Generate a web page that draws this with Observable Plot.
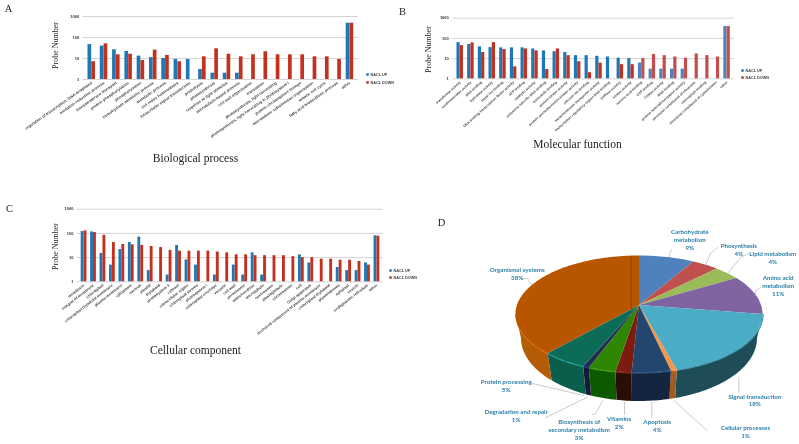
<!DOCTYPE html>
<html><head><meta charset="utf-8">
<script src="https://cdn.jsdelivr.net/npm/d3@7"></script>
<script src="https://cdn.jsdelivr.net/npm/@observablehq/plot@0.6"></script>
<style>
html,body{margin:0;padding:0;background:#fff}
#stage{position:relative;width:799px;height:444px;overflow:hidden}
#stage svg{position:absolute;left:0;top:0;background:transparent;filter:blur(.35px)}
</style></head><body><div id="stage"></div>
<script>
// ---------- Panel A: Biological process
const bpCategories = ["regulation of transcription, DNA-templated","oxidation-reduction process","transmembrane transport","protein phosphorylation","phosphorylation","carbohydrate metabolic process","metabolic process","cell redox homeostasis","intracellular signal transduction","proteolysis","photosynthesis","response to light stimulus","microtubule-based process","cell wall organization","translation","photosynthesis, light harvesting","photosynthesis, light harvesting in photosystem I","protein chromophore linkage","microtubule cytoskeleton organization","mitotic cell cycle","fatty acid biosynthetic process","other"];
const bpUp   = [46,39,26,21.5,13,11,10,9,9,3,2,2,2,null,null,null,null,null,null,null,null,480];
const bpDown = [7,50,15,16,8,25,14,7,null,12,29,16,12,15,21,15,15,15,12,12,9,480];
// ---------- Panel B: Molecular function
const mfCategories = ["transferase activity","oxidoreductase activity","DNA binding","hydrolase activity","metal ion binding","DNA binding transcription factor activity","ATP binding","catalytic activity","sequence-specific DNA binding","nucleotide binding","protein kinase activity","protein serine/threonine kinase activity","calcium ion binding","transmembrane transporter activity","transcription regulatory region DNA binding","GTPase activity","kinase activity","nucleic acid binding","GTP binding","Ciltase activity","RNA binding","protein heterodimerization activity","structural constituent of ribosome","chlorophyll binding","structural constituent of cytoskeleton","other"];
const mfUp   = [62,50,38,35,34,34,34,30,24,22,20,14,14,13,12,10.5,10,6,3,3,3,3,null,null,null,385];
const mfDown = [44,60,20,62,28,3.9,30,24,2.9,30,14,7,2,6,null,5,5,10,16,14,12,10.5,17,14,12,385];
// ---------- Panel C: Cellular component
const ccCategories = ["membrane","integral of membrane","chloroplast","chloroplast thylakoid membrane","plasma membrane","cytoplasm","nucleus","plastid","thylakoid","photosystem II","cytosol","extracellular region","chloroplast stroma","photosystem I","chloroplast envelope","vacuole","cell wall","peroxisome","mitochondrion","microtubule","nucleosome","plastoglobule","chromosome","cell","Golgi apparatus","anchored component of plasma membrane","chloroplast thylakoid","plasmodesma","apoplast","vesicle","endoplasmic reticulum","other"];
const ccUp   = [119,115,14.8,4.9,21.6,42,70,2.9,null,1.9,31.6,8,4.9,null,1.9,null,4.9,1.9,15.7,1.9,null,null,null,13,6,null,null,3.9,2.9,2.9,6,79];
const ccDown = [127,108,84,42,35,33.6,32,29,26,20,18.5,18.5,18.5,18.5,17,15.7,13,13,12,12,12,12,11,10,10,8.6,8.6,7.8,7.8,6.9,4.9,77];
// ---------- Panel D: pie
const pieNames  = ["Carbohydrate\nmetabolism","Phosynthesis","Lipid metabolism","Amino acid\nmetabolism","Signal transduction","Cellular processes","Apoptosis","Vitamins","Biosynthesis of\nsecondary metabolism","Degradation and repair","Protein processing","Organismal systems"];
const piePercent = [9,4,4,11,18,1,4,2,3,1,5,38];
const pieDrawnShare = [7.2,3.6,3.6,10.6,20,0.8,5.1,2.1,3.6,0.8,5.8,36.7];
const pieTop  = ["#4f81bd","#c0504d","#9bbb59","#8064a2","#4bacc6","#f79646","#23466e","#7a1d10","#2f8600","#20294f","#0c6c58","#b85600"];
const pieWall = ["#3a5f8c","#8c3a38","#71883f","#5c4876","#1e4c57","#a35a1e","#14263f","#2a0e05","#0d5b00","#141c3a","#0b5d4c","#b35b05"];
const pieRim  = ["#4f81bd","#c0504d","#9bbb59","#8064a2","#3f98ae","#f79646","#2f5a8c","#8c2a1a","#4aa012","#2c3768","#19b5b0","#f47b20"];

const BLUE="#1f78b4", RED="#c4301f", BLUE2="#4f81bd", RED2="#c0504d";
const stage=document.getElementById("stage");
const W=799,H=444;

function barPanel({cats,up,down,left,right,top,bottom,rotate,font,muteFrom=Infinity}){
  const rows=cats.map((c,i)=>({c,up:up[i],down:down[i],cu:i>=muteFrom?BLUE2:BLUE,cd:i>=muteFrom?RED2:RED}));
  const pitch=(W-left-right)/cats.length, half=pitch*0.305;
  return Plot.plot({width:W,height:H,marginLeft:left,marginRight:right,marginTop:top,marginBottom:bottom,
    style:{background:"transparent"},
    x:{type:"band",domain:cats,padding:0.39,round:false,label:null},
    y:{type:"log",domain:[1,1000],label:null},
    color:{type:"identity"},
    marks:[
      Plot.gridY([1,10,100,1000],{stroke:"#d4d4d4",strokeOpacity:1,strokeWidth:1}),
      Plot.barY(rows,{x:"c",y1:()=>1,y2:"up",fill:"cu",insetRight:half}),
      Plot.barY(rows,{x:"c",y1:()=>1,y2:"down",fill:"cd",insetLeft:half}),
      Plot.axisX({tickRotate:rotate,tickSize:0,tickPadding:3,fontSize:font,fontFamily:"Liberation Sans",fontWeight:"bold",fill:"#444",label:null,textOverflow:null,lineWidth:100}),
      Plot.axisY({ticks:[1,10,100,1000],tickFormat:String,tickSize:0,tickPadding:4,fontSize:4,fontFamily:"Liberation Sans",fontWeight:"bold",fill:"#333",label:null})
    ]});
}

// pie geometry
const C={ax:639,ay:305,cx:639,cy:314,rx:123.5,ry:58.5,bx:639,by:338,brx:118,bry:63};
const arcs=d3.pie().sort(null)(pieDrawnShare);
const deg=Math.PI/180;
const topPt=t=>[C.cx+C.rx*Math.sin(t),C.cy-C.ry*Math.cos(t)];
const botPt=t=>[C.bx+C.brx*Math.sin(t),C.by-C.bry*Math.cos(t)];
const steps=(a,b)=>{const n=Math.max(2,Math.ceil((b-a)/(1.5*deg)));return d3.range(n+1).map(i=>a+(b-a)*i/n)};
const sectorPts=[],wallPts=[],rimPts=[];
arcs.forEach((a,i)=>{
  steps(a.startAngle,a.endAngle).forEach(t=>{const [x,y]=topPt(t);sectorPts.push({k:i,x,y,ax:C.ax,ay:C.ay,fill:pieTop[i]})});
  const s=Math.max(a.startAngle,Math.PI/2),e=Math.min(a.endAngle,1.5*Math.PI);
  if(e>s) steps(s,e).forEach(t=>{const [x,y]=topPt(t),[x2,y2]=botPt(t);
    wallPts.push({k:i,x,y,x2,y2,fill:pieWall[i]});rimPts.push({k:i,x,y,stroke:pieRim[i]})});
});
const seamTop=topPt(-3.9*deg);
const seam=[{x:seamTop[0],y:seamTop[1]},{x:seamTop[0],y:C.ay+3}];

const labelAt=[[689.3,239],[738.3,249],[772.3,256.7],[777.7,284.7],[754.3,399.5],[745,431],[656.7,425],[618.7,421.7],[578.7,429.3],[515.7,415],[505.7,385.3],[516.7,272.7]];
const pieLabels=pieNames.map((n,i)=>({x:labelAt[i][0],y:labelAt[i][1],t:n+"\n"+piePercent[i]+"%"}));
const leaders=[
 [[671,249.3],[668.3,256]],
 [[717,247],[710,253],[705,265]],
 [[748,253],[740,257],[728,272]],
 [[760,287],[755,290],[755,295]],
 [[738.3,392],[738.3,377]],
 [[706.7,430],[673.3,400]],
 [[651.3,416.7],[651.3,401.7]],
 [[624,414],[624,401.7]],
 [[591.7,414],[595,413.3],[602.3,400]],
 [[545,417.3],[586.7,396.7]],
 [[530.7,382.7],[583.3,395]],
 [[521.7,277.7],[527.3,278.3],[531.7,285]]
].flatMap((l,k)=>l.map(([x,y])=>({k,x,y})));

const serif="Liberation Serif";
const titles=[{x:195,y:158,t:"Biological process"},{x:577,y:144,t:"Molecular function"},{x:195,y:350,t:"Cellular component"}];
const letters=[{x:8,y:8,t:"A"},{x:402,y:11,t:"B"},{x:9,y:208,t:"C"},{x:441,y:222,t:"D"}];
const yTitles=[{x:55,y:45},{x:428,y:49},{x:55,y:246}];
const legends=[{x:367,y1:74,y2:82},{x:742,y1:70,y2:77},{x:390,y1:270,y2:277}];

const overlay=Plot.plot({width:W,height:H,margin:0,axis:null,style:{background:"transparent"},
  x:{type:"identity"},y:{type:"identity"},color:{type:"identity"},
  marks:[
    Plot.area(wallPts,{x1:"x",y1:"y",x2:"x2",y2:"y2",z:"k",fill:"fill"}),
    Plot.line(rimPts,{x:"x",y:"y",z:"k",stroke:"stroke",strokeWidth:1.2}),
    Plot.area(sectorPts,{x1:"ax",y1:"ay",x2:"x",y2:"y",z:"k",fill:"fill"}),
    Plot.line(seam,{x:"x",y:"y",stroke:"#6e3408",strokeWidth:.7}),
    Plot.line(leaders,{x:"x",y:"y",z:"k",stroke:"#a8a8a8",strokeWidth:.6}),
    Plot.text(pieLabels,{x:"x",y:"y",text:"t",fontFamily:"Lato",fontWeight:"bold",fontSize:6.2,lineHeight:1.27,fill:"#2b7fa8"}),
    Plot.text(titles,{x:"x",y:"y",text:"t",fontFamily:serif,fontSize:11.5,fill:"#222"}),
    Plot.text(letters,{x:"x",y:"y",text:"t",fontFamily:serif,fontSize:10.5,fill:"#222"}),
    Plot.text(yTitles,{x:"x",y:"y",text:()=>"Probe Number",rotate:-90,fontFamily:serif,fontSize:8,fill:"#222"}),
    Plot.dot(legends,{x:"x",y:"y1",symbol:"square",r:1.4,fill:()=>BLUE}),
    Plot.dot(legends,{x:"x",y:"y2",symbol:"square",r:1.4,fill:()=>RED}),
    Plot.text(legends,{x:d=>d.x+3,y:"y1",text:()=>"NACL UP",textAnchor:"start",fontFamily:"Liberation Sans",fontWeight:"bold",fontSize:3.8,fill:"#444"}),
    Plot.text(legends,{x:d=>d.x+3,y:"y2",text:()=>"NACL DOWN",textAnchor:"start",fontFamily:"Liberation Sans",fontWeight:"bold",fontSize:3.8,fill:"#444"})
  ]});
stage.append(overlay);

stage.append(barPanel({cats:bpCategories,up:bpUp,down:bpDown,left:82.7,right:W-358,top:16,bottom:H-79,rotate:-35,font:4}));
stage.append(barPanel({cats:mfCategories,up:mfUp,down:mfDown,left:452.3,right:W-734,top:17.7,bottom:H-78.3,rotate:-42,font:3.5,muteFrom:17}));
stage.append(barPanel({cats:ccCategories,up:ccUp,down:ccDown,left:77,right:W-383,top:208.7,bottom:H-281.3,rotate:-38,font:3.9}));
</script></body></html>
